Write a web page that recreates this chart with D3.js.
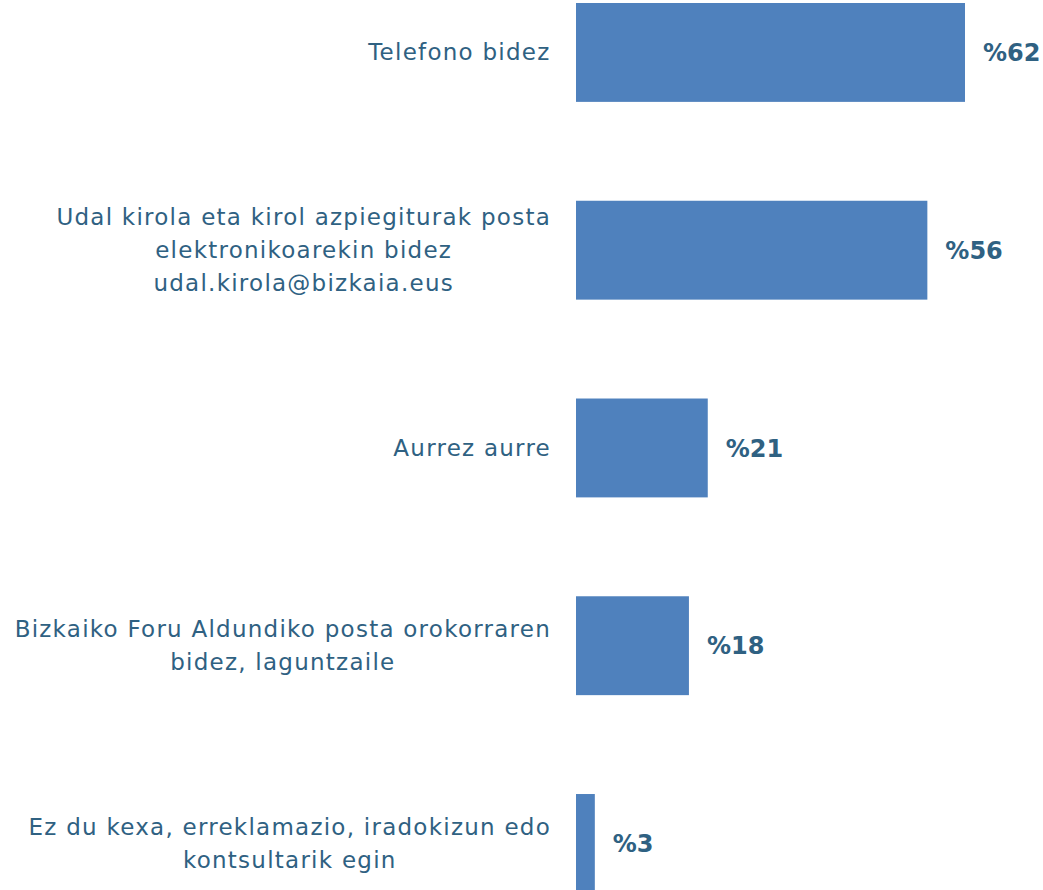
<!DOCTYPE html>
<html><head><meta charset="utf-8">
<script src="https://cdn.jsdelivr.net/npm/d3@7"></script>
<style>html,body{margin:0;padding:0;background:#fff;overflow:hidden}</style>
</head><body>
<svg id="chart" width="1043" height="890"></svg>
<script>
const categories = [
  ["Telefono bidez"],
  ["Udal kirola eta kirol azpiegiturak posta", "elektronikoarekin bidez", "udal.kirola@bizkaia.eus"],
  ["Aurrez aurre"],
  ["Bizkaiko Foru Aldundiko posta orokorraren", "bidez, laguntzaile"],
  ["Ez du kexa, erreklamazio, iradokizun edo", "kontsultarik egin"]
];
const values = [62, 56, 21, 18, 3];
const valueLabels = ["%62", "%56", "%21", "%18", "%3"];

const svg = d3.select("#chart");
const ids = categories.map((c, i) => i);
const y = d3.scaleBand().domain(ids).range([3, 892.9]).paddingInner(0.5).paddingOuter(0);
const x = d3.scaleLinear().domain([0, 62]).range([576, 965]);

const textColor = "#2F6182";
const barColor = "#4F81BD";
const font = "'DejaVu Sans', sans-serif";

svg.selectAll("rect.bar").data(values).join("rect")
  .attr("class", "bar")
  .attr("x", x(0))
  .attr("y", (d, i) => y(i))
  .attr("width", d => x(d) - x(0))
  .attr("height", y.bandwidth())
  .attr("fill", barColor);

const lineH = 33;
const labelRight = 551;
const lbl = svg.selectAll("text.cat").data(categories).join("text")
  .attr("class", "cat")
  .attr("text-anchor", "middle")
  .attr("font-family", font)
  .attr("font-size", 23)
  .attr("letter-spacing", 1.25)
  .attr("fill", textColor);
lbl.each(function(lines, i) {
  const cy = y(i) + y.bandwidth() / 2;
  const t = d3.select(this);
  const n = lines.length;
  t.selectAll("tspan").data(lines).join("tspan")
    .attr("x", 0)
    .attr("dy", "0.35em")
    .attr("y", (l, j) => cy + (j - (n - 1) / 2) * lineH)
    .text(l => l);
  const w = this.getBBox().width;
  t.selectAll("tspan").attr("x", labelRight - w / 2);
});

svg.selectAll("text.val").data(values).join("text")
  .attr("class", "val")
  .attr("x", d => x(d) + 18)
  .attr("y", (d, i) => y(i) + y.bandwidth() / 2)
  .attr("dy", "0.36em")
  .attr("font-family", font)
  .attr("font-size", 24)
  .attr("font-weight", "bold")
  .attr("fill", textColor)
  .text((d, i) => valueLabels[i]);
</script>
</body></html>
